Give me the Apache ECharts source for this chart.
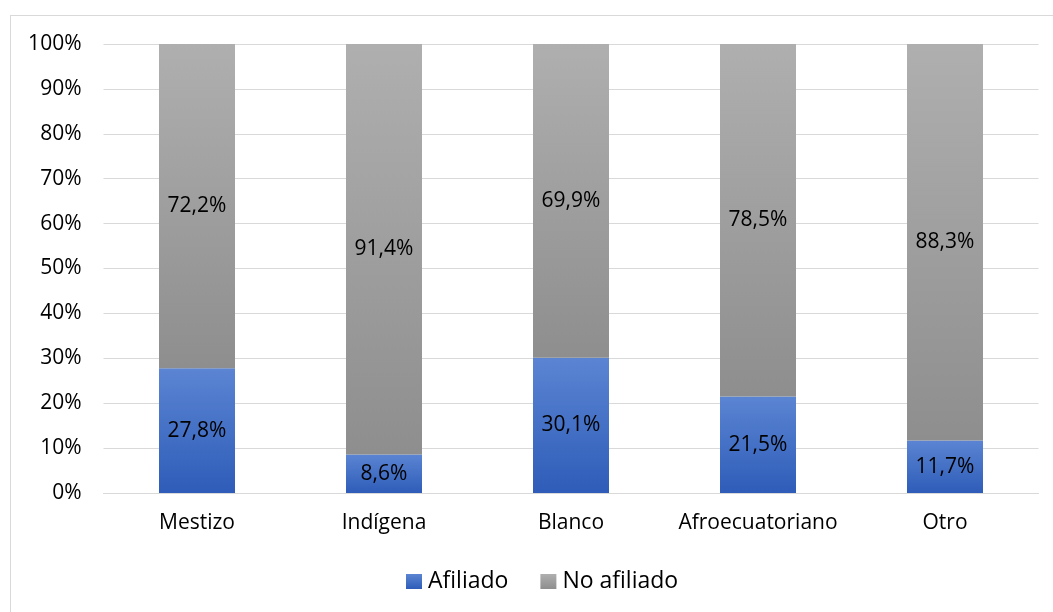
<!DOCTYPE html>
<html><head><meta charset="utf-8">
<script src="https://cdn.jsdelivr.net/npm/echarts@6/dist/echarts.min.js"></script>
<style>html,body{margin:0;padding:0;background:#fff;}#c{width:1053px;height:612px;}
#frame{position:absolute;left:10px;top:15px;width:1060px;height:620px;border:1px solid #d9d9d9;box-sizing:border-box;pointer-events:none;}</style>
</head><body><div id="c"></div><div id="frame"></div>
<script>
const categories = ['Mestizo', 'Indígena', 'Blanco', 'Afroecuatoriano', 'Otro'];
const afiliado = [27.8, 8.6, 30.1, 21.5, 11.7];
const noAfiliado = [72.2, 91.4, 69.9, 78.5, 88.3];
const seriesNames = ['Afiliado', 'No afiliado'];

const FONT = 'Open Sans';
const chart = echarts.init(document.getElementById('c'));
const fmt = v => v.toFixed(1).replace('.', ',') + '%';
const blueGrad = new echarts.graphic.LinearGradient(0, 0, 0, 1, [{offset: 0, color: '#5b85d3'}, {offset: 1, color: '#2e5cb8'}]);
const grayGrad = new echarts.graphic.LinearGradient(0, 0, 0, 1, [{offset: 0, color: '#afafaf'}, {offset: 1, color: '#8e8e8e'}]);
const lbl = {show: true, position: 'inside', color: '#000', fontFamily: FONT, fontSize: 21, formatter: p => fmt(p.value)};
chart.setOption({
  animation: false,
  textStyle: {fontFamily: FONT},
  grid: {left: 103.5, right: 14.5, top: 44, bottom: 119, containLabel: false},
  legend: {
    data: seriesNames, top: 565, left: 401, itemWidth: 16, itemHeight: 15, itemGap: 32,
    icon: 'rect',
    textStyle: {fontFamily: FONT, fontSize: 23, color: '#000', padding: [0,0,0,1]}
  },
  xAxis: {
    type: 'category', data: categories,
    axisLine: {show: true, lineStyle: {color: '#d9d9d9', width: 1}},
    axisTick: {show: false},
    axisLabel: {color: '#000', fontSize: 21, fontFamily: FONT, margin: 20, interval: 0}
  },
  yAxis: {
    type: 'value', min: 0, max: 100, interval: 10,
    axisLabel: {formatter: '{value}%', color: '#000', fontSize: 21, fontFamily: FONT, margin: 22},
    splitLine: {lineStyle: {color: '#d9d9d9', width: 1}},
    axisLine: {show: false}, axisTick: {show: false}
  },
  series: [
    {name: seriesNames[0], type: 'bar', stack: 's', data: afiliado, barWidth: 76,
     itemStyle: {color: blueGrad}, label: lbl},
    {name: seriesNames[1], type: 'bar', stack: 's', data: noAfiliado, barWidth: 76,
     itemStyle: {color: grayGrad}, label: lbl}
  ]
});
</script></body></html>
